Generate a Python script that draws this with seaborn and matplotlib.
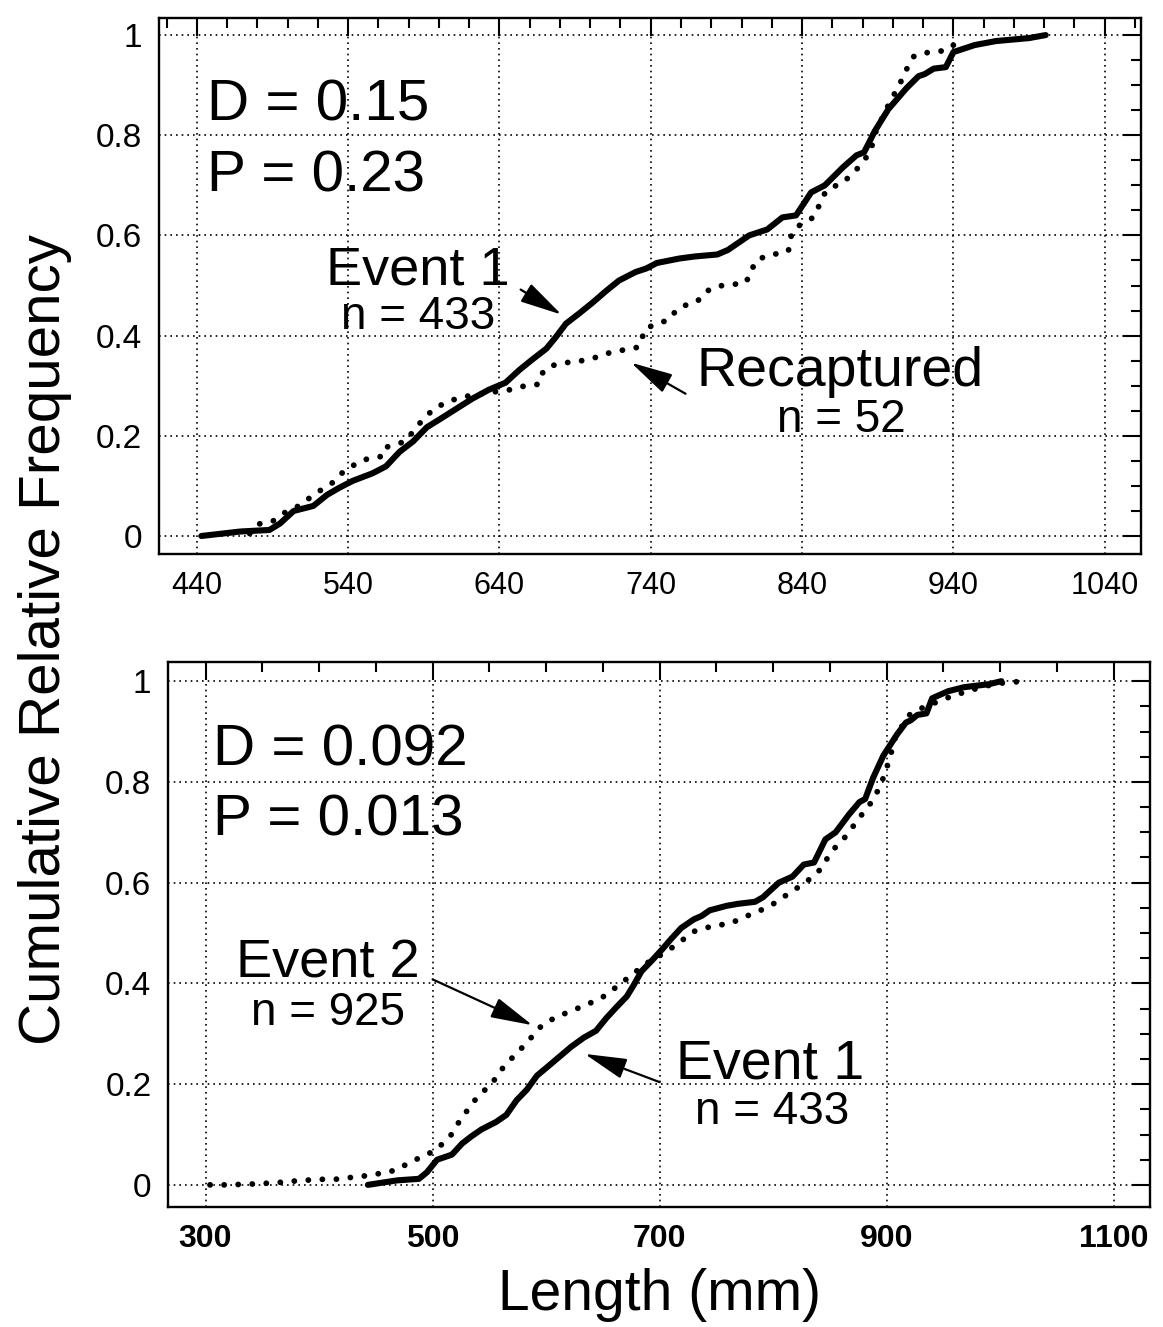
import numpy as np
import pandas as pd
import matplotlib
matplotlib.use("Agg")
import matplotlib.pyplot as plt
import seaborn as sns

# ==========================================
# 1. DATOS
# ==========================================
# Event 1 (n = 433), curva acumulada, usada en los dos paneles
event1_len = [443, 469, 488, 495, 504, 517, 526, 534, 543, 556, 565, 574, 583, 592, 600,
              611, 622, 633, 644, 653, 662, 671, 677, 684, 693, 702, 710, 719, 730, 737,
              744, 759, 769, 784, 791, 805, 817, 827, 836, 846, 855, 867, 876, 881, 888,
              897, 909, 917, 921, 927, 935, 940, 954, 968, 990, 1001]
event1_cdf = [0.0, 0.009, 0.012, 0.025, 0.05, 0.06, 0.082, 0.096, 0.11, 0.125, 0.139, 0.168,
              0.189, 0.217, 0.232, 0.253, 0.274, 0.292, 0.306, 0.331, 0.353, 0.374, 0.396,
              0.424, 0.445, 0.467, 0.488, 0.51, 0.527, 0.534, 0.545, 0.554, 0.558, 0.562,
              0.571, 0.60, 0.612, 0.636, 0.64, 0.686, 0.70, 0.736, 0.76, 0.766, 0.808,
              0.852, 0.894, 0.918, 0.922, 0.933, 0.936, 0.966, 0.98, 0.988, 0.994, 1.0]

# Recaptured (n = 52), panel superior
recap_len = [475, 481, 490, 497, 504, 510, 516, 530, 534, 540, 550, 564, 566, 578, 586,
             592, 596, 607, 620, 635, 647, 656, 666, 668, 673, 684, 693, 703, 713, 723,
             732, 734, 737, 744, 753, 757, 764, 771, 776, 783, 792, 802, 807, 808, 815,
             824, 831, 832, 836, 848, 851, 855, 858, 867, 877, 885, 889, 897, 905, 908,
             914, 924, 935, 940, 942]
recap_cdf = [0.005, 0.024, 0.029, 0.045, 0.055, 0.064, 0.08, 0.107, 0.121, 0.135, 0.152,
             0.16, 0.178, 0.189, 0.221, 0.239, 0.253, 0.27, 0.28, 0.287, 0.292, 0.299,
             0.303, 0.324, 0.339, 0.346, 0.349, 0.356, 0.366, 0.372, 0.377, 0.394, 0.416,
             0.422, 0.434, 0.452, 0.462, 0.469, 0.487, 0.498, 0.502, 0.504, 0.526, 0.544,
             0.558, 0.564, 0.569, 0.594, 0.616, 0.637, 0.658, 0.684, 0.694, 0.705, 0.735,
             0.766, 0.81, 0.86, 0.905, 0.926, 0.958, 0.966, 0.969, 0.98, 1.0]

# Event 2 (n = 925), panel inferior
event2_len = [304, 318, 332, 345, 359, 372, 380, 394, 402, 414, 425, 438, 449, 460, 470,
              479, 490, 501, 509, 517, 523, 530, 536, 544, 553, 558, 567, 577, 586, 593,
              602, 612, 624, 637, 650, 662, 675, 687, 700, 713, 730, 740, 750, 762, 776,
              788, 801, 816, 829, 842, 851, 864, 876, 889, 898, 903, 908, 920, 933, 946,
              958, 980, 996, 1009, 1023]
event2_cdf = [0.0, 0.0, 0.001, 0.002, 0.004, 0.006, 0.008, 0.01, 0.011, 0.011, 0.014,
              0.017, 0.021, 0.025, 0.031, 0.044, 0.055, 0.067, 0.082, 0.101, 0.124, 0.146,
              0.165, 0.184, 0.203, 0.222, 0.245, 0.268, 0.29, 0.31, 0.325, 0.336, 0.347,
              0.359, 0.373, 0.393, 0.416, 0.438, 0.455, 0.474, 0.503, 0.51, 0.515, 0.519,
              0.533, 0.544, 0.559, 0.582, 0.601, 0.627, 0.661, 0.692, 0.729, 0.767, 0.813,
              0.85, 0.892, 0.933, 0.949, 0.96, 0.971, 0.986, 0.995, 0.998, 1.0]

top_xticks = [440, 540, 640, 740, 840, 940, 1040]
bot_xticks = [300, 500, 700, 900, 1100]
yticks = [0, 0.2, 0.4, 0.6, 0.8, 1]
ytick_labels = ["0", "0.2", "0.4", "0.6", "0.8", "1"]

# ==========================================
# 2. ESTILO
# ==========================================
sns.set_theme(style="white")
plt.rcParams["font.family"] = ["Liberation Sans", "DejaVu Sans"]
plt.rcParams.update({"text.color": "black", "axes.labelcolor": "black",
                     "xtick.color": "black", "ytick.color": "black"})

GRID_LS = (0, (1, 2.4))
DOT_LS = (0, (0.01, 2.4))


def estilo(ax, xlim, ylim, xticks, xminor, xlab_size, xlab_weight):
    ax.set_xlim(*xlim)
    ax.set_ylim(*ylim)
    ax.set_xticks(xticks)
    ax.set_xticks(xminor, minor=True)
    ax.set_yticks(yticks)
    ax.set_yticklabels(ytick_labels)
    ax.set_yticks(np.arange(0, 1.01, 0.05), minor=True)
    ax.tick_params(which="both", direction="in", top=True, right=True,
                   colors="black", width=1.5)
    ax.tick_params(which="major", length=13)
    ax.tick_params(which="minor", length=7)
    ax.tick_params(axis="y", labelsize=24, pad=12)
    ax.tick_params(axis="x", labelsize=xlab_size, pad=12)
    for lab in ax.get_xticklabels():
        lab.set_fontweight(xlab_weight)
    ax.grid(True, which="major", color="black", linestyle=GRID_LS, linewidth=1.2)
    ax.set_axisbelow(True)
    for sp in ax.spines.values():
        sp.set_color("black")
        sp.set_linewidth(1.7)
    ax.set_xlabel("")
    ax.set_ylabel("")


def curva(ax, x, y, punteada=False):
    sns.lineplot(x=x, y=y, ax=ax, color="black", estimator=None, sort=False,
                 linewidth=4.2 if punteada else 4.4, legend=False)
    ln = ax.lines[-1]
    if punteada:
        ln.set_linestyle(DOT_LS)
        ln.set_dash_capstyle("round")
    ln.set_zorder(3)


def flecha(ax, cola, punta):
    ax.annotate("", xy=punta, xytext=cola,
                arrowprops=dict(arrowstyle="-|>,head_length=1.3,head_width=0.32",
                                color="black", lw=1.6, shrinkA=0, shrinkB=0,
                                mutation_scale=20))


fig = plt.figure(figsize=(11.63, 13.27), dpi=100)
ax_top = fig.add_axes([0.1367, 0.5825, 0.8444, 0.4039])
ax_bot = fig.add_axes([0.1445, 0.0904, 0.8444, 0.4107])

# ==========================================
# 3. PANEL SUPERIOR
# ==========================================
curva(ax_top, recap_len, recap_cdf, punteada=True)
curva(ax_top, event1_len, event1_cdf)
estilo(ax_top, (415, 1064), (-0.036, 1.034), top_xticks, np.arange(420, 1061, 20),
       22, "normal")

ax_top.text(447, 0.830, "D = 0.15", fontsize=42, ha="left", va="baseline")
ax_top.text(447, 0.688, "P = 0.23", fontsize=42, ha="left", va="baseline")
ax_top.text(586, 0.503, "Event 1", fontsize=39, ha="center", va="baseline")
ax_top.text(586, 0.413, "n = 433", fontsize=33, ha="center", va="baseline")
ax_top.text(865, 0.300, "Recaptured", fontsize=40, ha="center", va="baseline")
ax_top.text(866, 0.208, "n = 52", fontsize=33, ha="center", va="baseline")
flecha(ax_top, (654, 0.492), (681, 0.442))
flecha(ax_top, (763, 0.284), (727, 0.346))

# ==========================================
# 4. PANEL INFERIOR
# ==========================================
curva(ax_bot, event2_len, event2_cdf, punteada=True)
curva(ax_bot, event1_len, event1_cdf)
estilo(ax_bot, (267, 1132), (-0.044, 1.038), bot_xticks, np.arange(300, 1101, 50),
       23, "bold")

ax_bot.text(307, 0.833, "D = 0.092", fontsize=42, ha="left", va="baseline")
ax_bot.text(307, 0.693, "P = 0.013", fontsize=42, ha="left", va="baseline")
ax_bot.text(408, 0.411, "Event 2", fontsize=39, ha="center", va="baseline")
ax_bot.text(408, 0.317, "n = 925", fontsize=33, ha="center", va="baseline")
ax_bot.text(797, 0.212, "Event 1", fontsize=40, ha="center", va="baseline")
ax_bot.text(799, 0.121, "n = 433", fontsize=33, ha="center", va="baseline")
flecha(ax_bot, (500, 0.408), (588, 0.317))
flecha(ax_bot, (700, 0.204), (634, 0.260))

# ==========================================
# 5. ETIQUETAS COMUNES
# ==========================================
fig.text(0.039, 0.518, "Cumulative Relative Frequency", fontsize=42,
         rotation=90, ha="center", va="center")
fig.text(0.567, 0.024, "Length (mm)", fontsize=41, ha="center", va="center")

fig.savefig("out.png", dpi=100)
plt.close(fig)
